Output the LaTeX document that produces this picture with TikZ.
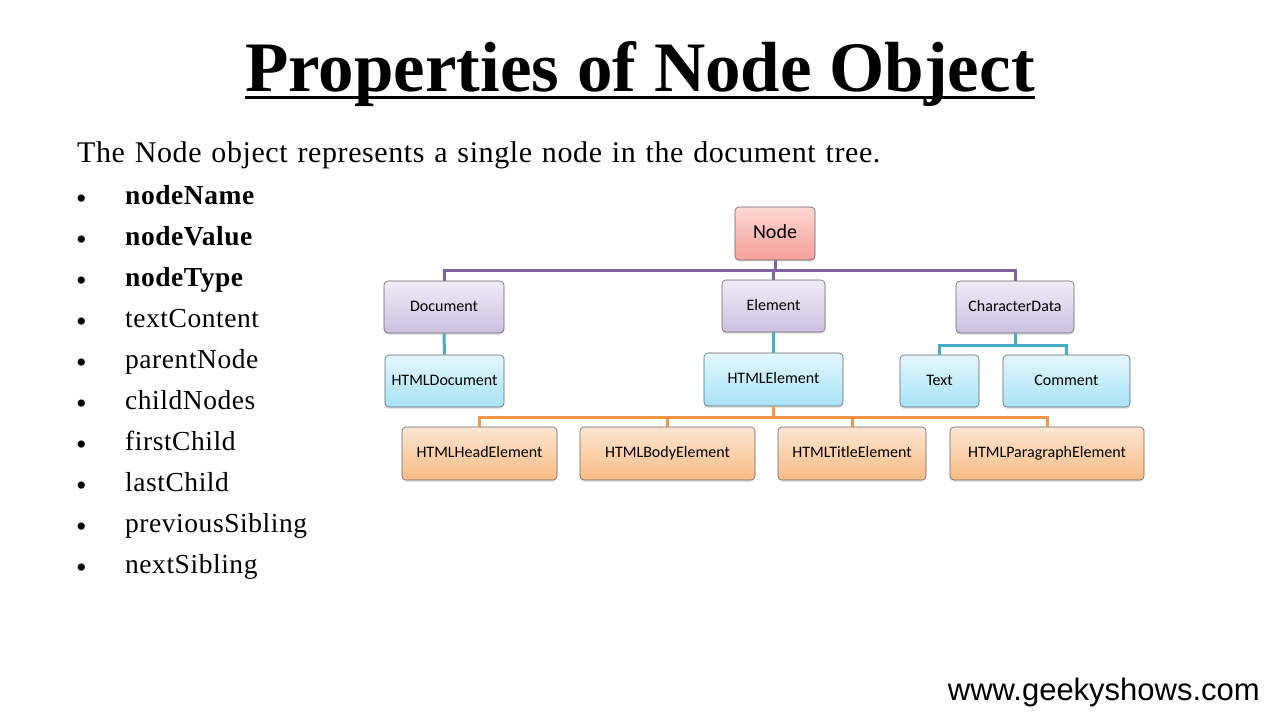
\documentclass[tikz,border=0pt]{standalone}
\usepackage{fontspec}
\setmainfont{Liberation Serif}
\newfontfamily\boxfont{Carlito}
\newfontfamily\webfont{Liberation Sans}
\newfontfamily\listfont[LetterSpace=2]{Liberation Serif}
\usetikzlibrary{shadows}

\definecolor{lnpurple}{RGB}{128,100,162}
\definecolor{lnblue}{RGB}{75,172,198}
\definecolor{lnorange}{RGB}{247,150,70}

\begin{document}
\begin{tikzpicture}[x=1pt,y=-1pt,
  box/.style={draw=black!60, line width=0.6pt, rounded corners=4pt,
    minimum height=52pt, inner sep=0pt, text height=11pt, text depth=3pt,
    font=\boxfont\fontsize{16}{19}\selectfont,
    drop shadow={shadow xshift=0pt, shadow yshift=-2pt, opacity=0.2}},
  redbox/.style={box, top color={rgb,255:red,253;green,215;blue,211}, bottom color={rgb,255:red,244;green,160;blue,152}},
  purplebox/.style={box, top color={rgb,255:red,240;green,236;blue,246}, bottom color={rgb,255:red,205;green,191;blue,225}},
  bluebox/.style={box, top color={rgb,255:red,228;green,247;blue,253}, bottom color={rgb,255:red,166;green,226;blue,246}},
  orangebox/.style={box, top color={rgb,255:red,253;green,230;blue,210}, bottom color={rgb,255:red,249;green,188;blue,132}},
  link/.style={line width=3pt},
  item/.style={anchor=base west, inner sep=0pt, font=\listfont\fontsize{27.5}{32}\selectfont},
  bullet/.style={anchor=base west, inner sep=0pt, font=\fontsize{30}{34}\selectfont}
]
\useasboundingbox (0,0) rectangle (1280,720);
\fill[white] (0,0) rectangle (1280,720);

% heading with its rule
\node[anchor=base, inner sep=0pt, font=\bfseries\fontsize{71}{80}\selectfont] (title) at (640,91) {Properties of Node Object};
\draw[line width=3pt] (245,97) -- (1035,97);

% introduction and property list
\node[anchor=base west, inner sep=0pt, font=\listfont\fontsize{30}{34}\selectfont] (intro) at (77,162) {\spaceskip=9.8pt The Node object represents a single node in the document tree.};

\foreach \i/\t in {0/\textbf{nodeName},1/\textbf{nodeValue},2/\textbf{nodeType},3/textContent,4/parentNode,5/childNodes,6/firstChild,7/lastChild,8/previousSibling,9/nextSibling}{
  \node[bullet] (b\i) at (76,{208+41*\i}) {\textbullet};
  \node[item] (p\i) at (125,{204+41*\i}) {\t};
}

% tree boxes
\node[redbox, minimum width=80pt, minimum height=53pt, text height=13pt, text depth=4pt, font=\boxfont\fontsize{20}{24}\selectfont] (node) at (775,233.5) {Node};

\node[purplebox, minimum width=120pt] (doc) at (444,307) {Document};
\node[purplebox, minimum width=103pt] (el) at (773.5,306) {Element};
\node[purplebox, minimum width=118pt] (cd) at (1015,307) {CharacterData};

\node[bluebox, minimum width=119pt] (hdoc) at (444.5,381) {HTMLDocument};
\node[bluebox, minimum width=139pt, minimum height=53pt] (hel) at (773.5,379.5) {HTMLElement};
\node[bluebox, minimum width=79pt] (txt) at (939.5,381) {Text};
\node[bluebox, minimum width=127pt] (cmt) at (1066.5,381) {Comment};

\node[orangebox, minimum width=155pt, minimum height=53pt] (head) at (479.5,453.5) {HTMLHeadElement};
\node[orangebox, minimum width=175pt, minimum height=53pt] (body) at (667.5,453.5) {HTMLBodyElement};
\node[orangebox, minimum width=148pt, minimum height=53pt] (ttl) at (852,453.5) {HTMLTitleElement};
\node[orangebox, minimum width=194pt, minimum height=53pt] (para) at (1047,453.5) {HTMLParagraphElement};

% connectors
\coordinate (busA) at (775,270);
\draw[link, lnpurple] (node.south) -- (node.south |- busA);
\draw[link, lnpurple] (doc.north) -- (doc.north |- busA) -- (cd.north |- busA) -- (cd.north);
\draw[link, lnpurple] (el.north) -- (el.north |- busA);

\draw[link, lnblue] (doc.south) -- (hdoc.north);
\draw[link, lnblue] (el.south) -- (hel.north);
\coordinate (busB) at (1015,345);
\draw[link, lnblue] (cd.south) -- (cd.south |- busB);
\draw[link, lnblue] (txt.north) -- (txt.north |- busB) -- (cmt.north |- busB) -- (cmt.north);

\coordinate (busC) at (773,417);
\draw[link, lnorange] (hel.south) -- (hel.south |- busC);
\draw[link, lnorange] (head.north) -- (head.north |- busC) -- (para.north |- busC) -- (para.north);
\draw[link, lnorange] (body.north) -- (body.north |- busC);
\draw[link, lnorange] (ttl.north) -- (ttl.north |- busC);

% site address
\node[anchor=base east, inner sep=0pt, font=\webfont\fontsize{31}{34}\selectfont] (web) at (1260,700) {www.geekyshows.com};
\end{tikzpicture}
\end{document}
